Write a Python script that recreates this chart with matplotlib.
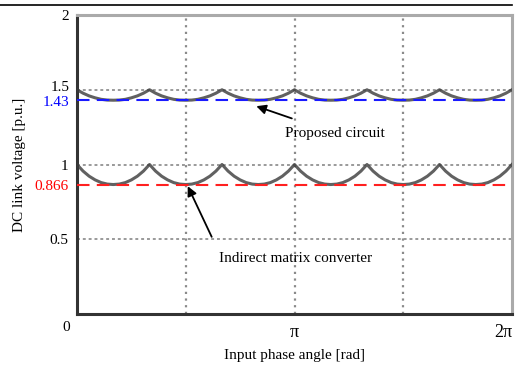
import numpy as np
import matplotlib
matplotlib.use("Agg")
import matplotlib.pyplot as plt
from matplotlib.lines import Line2D

# one ripple period (peak -> trough -> peak)
imc_period = [1.0, 0.956, 0.922, 0.897, 0.879, 0.869, 0.866, 0.869, 0.879, 0.897, 0.922, 0.956, 1.0]
prop_period = [1.5, 1.477, 1.459, 1.446, 1.436, 1.431, 1.43, 1.431, 1.436, 1.446, 1.459, 1.477, 1.5]
n_periods = 6  # over 0..2pi

imc_avg = 0.866
prop_avg = 1.43

y_ticks = [0.5, 1, 2]
y_ticklabels = ["0.5", "1", "2"]
x_ticks = [np.pi, 2 * np.pi]
x_ticklabels = ["π", "2π"]

plt.rcParams['font.family'] = ['Liberation Serif', 'DejaVu Serif']

# tile the period values across 0..2pi
imc = list(imc_period)
prop = list(prop_period)
for k in range(n_periods - 1):
    imc += imc_period[1:]
    prop += prop_period[1:]
x = np.linspace(0, 2 * np.pi, len(imc))

fig = plt.figure(figsize=(5.17, 3.65), dpi=100)
ax = fig.add_axes([77 / 517, 1 - 314 / 365, (512 - 77) / 517, (314 - 15) / 365])

# grid
for gx in [np.pi / 2, np.pi, 3 * np.pi / 2]:
    ax.axvline(gx, color="#8a8a8a", lw=1.6, ls=(0, (1, 2)), zorder=1)
for gy in [0.5, 1, 1.5]:
    ax.axhline(gy, color="#9a9a9a", lw=1.4, ls=(0, (1.5, 1.5)), zorder=1)

ax.plot(x, imc, color="#3a3a3a", lw=2.2, alpha=0.8, zorder=3)
ax.plot(x, prop, color="#3a3a3a", lw=2.2, alpha=0.8, zorder=3)

ax.axhline(prop_avg, color="#1a1aff", lw=1.5, ls=(0, (6, 3.5)), zorder=4)
ax.axhline(imc_avg, color="#ff2020", lw=1.5, ls=(0, (6, 3.5)), zorder=4)

ax.set_xlim(0, 2 * np.pi)
ax.set_ylim(0, 2)

ax.set_yticks(y_ticks + [imc_avg])
ax.set_yticklabels(y_ticklabels + ["0.866"], fontsize=11)
ax.get_yticklabels()[3].set_color("red")

# 1.5 and 1.43 sit very close, so place them by hand just off their levels
ytr = ax.get_yaxis_transform()
ax.text(-0.017, 1.5 + 0.012, "1.5", transform=ytr, fontsize=11, ha="right", va="center")
ax.text(-0.017, prop_avg - 0.012, "1.43", transform=ytr, fontsize=11, ha="right", va="center", color="blue")

ax.set_xticks(x_ticks)
ax.set_xticklabels(x_ticklabels, fontsize=13)
ax.get_xticklabels()[1].set_ha("right")
ax.tick_params(length=0, pad=6)
ax.tick_params(axis="x", pad=7)
ax.text(-0.16, -0.09, "0", fontsize=11, ha="center", va="center")

for side in ["left", "bottom"]:
    ax.spines[side].set_color("#333333")
    ax.spines[side].set_linewidth(2.2)
for side in ["top", "right"]:
    ax.spines[side].set_color("#aaaaaa")
    ax.spines[side].set_linewidth(2.2)

ax.set_ylabel("DC link voltage [p.u.]", fontsize=11, labelpad=6)
ax.set_xlabel("Input phase angle [rad]", fontsize=11, labelpad=6)

ax.annotate("Proposed circuit", xy=(2.59, 1.39), xytext=(3.0, 1.21),
            fontsize=11, va="center", ha="left",
            arrowprops=dict(arrowstyle="-|>", color="black", lw=1.3,
                            shrinkA=12, shrinkB=0, mutation_scale=14))
ax.annotate("Indirect matrix converter", xy=(1.6, 0.855), xytext=(2.05, 0.37),
            fontsize=11, va="center", ha="left",
            arrowprops=dict(arrowstyle="-|>", color="black", lw=1.3,
                            shrinkA=10, shrinkB=0, mutation_scale=14,
                            relpos=(0, 1)))

fig.add_artist(Line2D([0, 512 / 517], [1 - 5 / 365, 1 - 5 / 365], color="black", lw=1.2))

fig.savefig("out.png", dpi=100)
